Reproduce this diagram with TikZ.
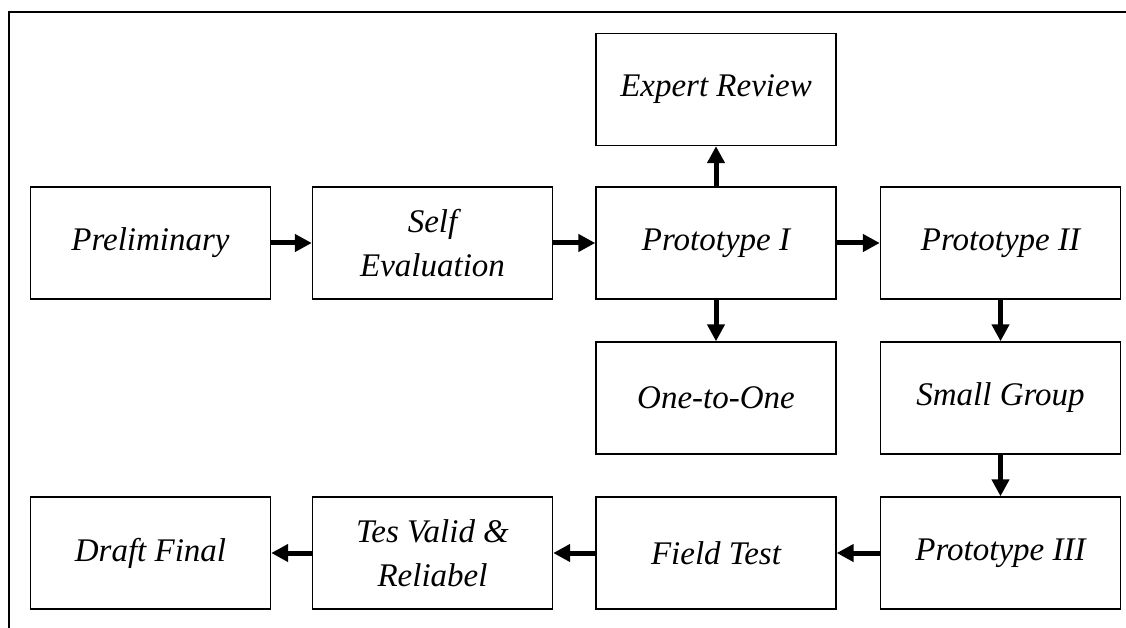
\documentclass[tikz,border=0pt]{standalone}
\usepackage{fontspec}
\setmainfont{Liberation Serif}
\usetikzlibrary{arrows.meta}
\begin{document}
\begin{tikzpicture}[x=1pt,y=-1pt,
  stage/.style={draw, line width=1.4pt, minimum width=240pt, minimum height=112pt,
    inner sep=0pt, align=center, font=\fontsize{33}{44}\selectfont\itshape},
  flow/.style={line width=5pt, -{Triangle[length=17pt,width=17pt]}}]
  \useasboundingbox (0,0) rectangle (1126,628);
  % outer frame (top and left edges)
  \draw[line width=2.5pt] (9,628) -- (9,12) -- (1126,12);
  % stage boxes, placed by centre
  \node[stage] (expert) at (716,89.5) {Expert Review};
  \node[stage] (prelim) at (150.5,243) {Preliminary};
  \node[stage] (self)   at (432.5,243) {Self\\Evaluation};
  \node[stage] (proto1) at (716,243) {Prototype I};
  \node[stage] (proto2) at (1000.5,243) {Prototype II};
  \node[stage] (one)    at (716,398) {One-to-One};
  \node[stage] (small)  at (1000.5,398) {Small Group};
  \node[stage] (draft)  at (150.5,553) {Draft Final};
  \node[stage] (valid)  at (432.5,553) {Tes Valid \&\\Reliabel};
  \node[stage] (field)  at (716,553) {Field Test};
  \node[stage] (proto3) at (1000.5,553) {Prototype III};
  % connectors
  \draw[flow] (prelim) -- (self);
  \draw[flow] (self) -- (proto1);
  \draw[flow] (proto1) -- (proto2);
  \draw[flow] (proto1) -- (expert);
  \draw[flow] (proto1) -- (one);
  \draw[flow] (proto2) -- (small);
  \draw[flow] (small) -- (proto3);
  \draw[flow] (proto3) -- (field);
  \draw[flow] (field) -- (valid);
  \draw[flow] (valid) -- (draft);
\end{tikzpicture}
\end{document}
